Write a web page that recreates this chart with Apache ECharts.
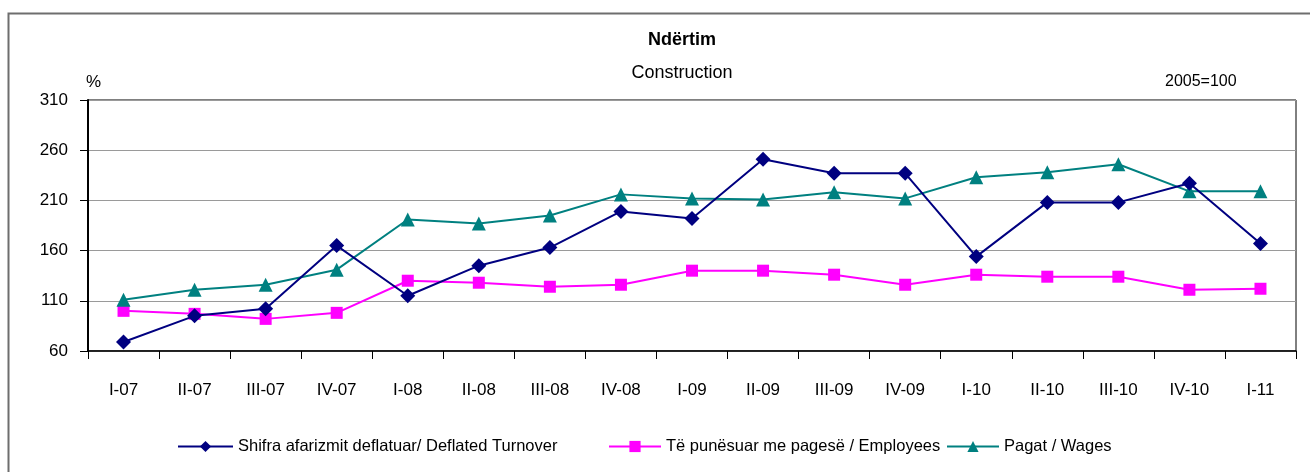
<!DOCTYPE html>
<html>
<head>
<meta charset="utf-8">
<script src="https://cdn.jsdelivr.net/npm/echarts@6/dist/echarts.min.js"></script>
<style>html,body{margin:0;padding:0;background:#fff;}#c{width:1310px;height:472px;}</style>
</head>
<body>
<div id="c"></div>
<script>
const categories = ['I-07','II-07','III-07','IV-07','I-08','II-08','III-08','IV-08','I-09','II-09','III-09','IV-09','I-10','II-10','III-10','IV-10','I-11'];
const turnover = [69, 95, 102, 165, 115, 145, 163, 199, 192, 251, 237, 237, 154, 208, 208, 227, 167];
const employees = [100, 97, 92, 98, 130, 128, 124, 126, 140, 140, 136, 126, 136, 134, 134, 121, 122];
const wages = [111, 121, 126, 141, 191, 187, 195, 216, 212, 211, 218, 212, 233, 238, 246, 219, 219];
const seriesNames = ['Shifra afarizmit deflatuar/ Deflated Turnover', 'Të punësuar me pagesë / Employees', 'Pagat / Wages'];
const yTicks = [60, 110, 160, 210, 260, 310];

const FONT = 'Arial, "Liberation Sans", sans-serif';
const chart = echarts.init(document.getElementById('c'), null, {renderer: 'canvas'});
const legendBase = {
  orient: 'horizontal', top: 438, itemWidth: 52, itemHeight: 14, itemGap: 0,
  textStyle: {fontFamily: FONT, fontSize: 16.5, color: '#000'},
  padding: 0
};
chart.setOption({
  animation: false,
  backgroundColor: '#fff',
  graphic: [
    {type: 'polyline', shape: {points: [[8.5, 480], [8.5, 13.5], [1320, 13.5]]}, style: {stroke: '#6e6e6e', lineWidth: 2, fill: null}},
    {type: 'text', style: {text: 'Ndërtim', x: 682, y: 40, align: 'center', verticalAlign: 'middle', font: 'bold 18px ' + FONT, fill: '#000'}},
    {type: 'text', style: {text: 'Construction', x: 682, y: 73, align: 'center', verticalAlign: 'middle', font: '18px ' + FONT, fill: '#000'}},
    {type: 'text', style: {text: '%', x: 86, y: 82, align: 'left', verticalAlign: 'middle', font: '17px ' + FONT, fill: '#000'}},
    {type: 'text', style: {text: '2005=100', x: 1165, y: 82, align: 'left', verticalAlign: 'middle', font: '16px ' + FONT, fill: '#000'}}
  ],
  grid: {left: 88, right: 14, top: 100, bottom: 121, show: true, borderColor: '#000', borderWidth: 1, backgroundColor: 'transparent'},
  legend: [
    Object.assign({}, legendBase, {left: 177, itemWidth: 55, data: [seriesNames[0]]}),
    Object.assign({}, legendBase, {left: 608, data: [seriesNames[1]]}),
    Object.assign({}, legendBase, {left: 946, data: [seriesNames[2]]})
  ],
  xAxis: {
    type: 'category', data: categories, boundaryGap: true,
    axisLine: {lineStyle: {color: '#000', width: 1.5}},
    axisTick: {show: true, length: 8, lineStyle: {color: '#000', width: 1}},
    axisLabel: {fontFamily: FONT, fontSize: 17, color: '#000', margin: 31},
    splitLine: {show: false}
  },
  yAxis: {
    type: 'value', min: yTicks[0], max: yTicks[yTicks.length - 1], interval: 50,
    axisLine: {show: true, lineStyle: {color: '#000', width: 2}},
    axisTick: {show: true, length: 8, lineStyle: {color: '#000', width: 1}},
    axisLabel: {fontFamily: FONT, fontSize: 17, color: '#000', margin: 20},
    splitLine: {show: true, lineStyle: {color: '#9a9a9a', width: 1}}
  },
  series: [
    {name: seriesNames[0], type: 'line', data: turnover, symbol: 'diamond', symbolSize: 15,
     itemStyle: {color: '#000080'}, lineStyle: {color: '#000080', width: 2}, z: 3},
    {name: seriesNames[1], type: 'line', data: employees, symbol: 'rect', symbolSize: 12,
     itemStyle: {color: '#FF00FF'}, lineStyle: {color: '#FF00FF', width: 2}, z: 2},
    {name: seriesNames[2], type: 'line', data: wages, symbol: 'triangle', symbolSize: 14,
     itemStyle: {color: '#008080'}, lineStyle: {color: '#008080', width: 2}, z: 2}
  ]
});
</script>
</body>
</html>
